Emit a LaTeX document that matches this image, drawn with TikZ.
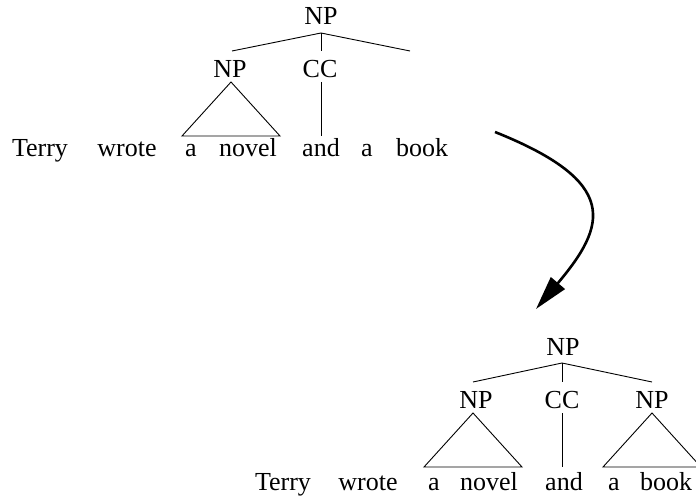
\documentclass[tikz,border=0pt]{standalone}
\usepackage{fontspec}
\setmainfont{Liberation Serif}
\usetikzlibrary{arrows.meta}
\begin{document}
\begin{tikzpicture}[x=1pt,y=-1pt,
  lab/.style={font=\fontsize{26}{30}\selectfont, inner sep=0pt, anchor=base},
  word/.style={lab},
  edge/.style={line width=0.9pt},
  bigarrow/.style={line width=2.6pt, -{Triangle[length=34pt,width=18pt]}}
]
\useasboundingbox (0,0) rectangle (696,497);

% ---------- top tree ----------
\node[lab] (r1) at (321,25) {NP};
\coordinate (r1a) at (321,33);
\coordinate (b1l) at (232,51);
\coordinate (b1m) at (321,51);
\coordinate (b1r) at (410,51);
\draw[edge] (r1a) -- (b1l);
\draw[edge] (r1a) -- (b1m);
\draw[edge] (r1a) -- (b1r);
\node[lab] (np1) at (230,78) {NP};
\node[lab] (cc1) at (320,78) {CC};
\coordinate (t1a) at (231,82);
\coordinate (t1l) at (182,136);
\coordinate (t1r) at (280,136);
\draw[edge] (t1a) -- (t1l) -- (t1r) -- cycle;
\coordinate (c1a) at (321,82);
\coordinate (c1b) at (321,136);
\draw[edge] (c1a) -- (c1b);
\node[word] (w1) at (40,157) {Terry};
\node[word] (w2) at (127,157) {wrote};
\node[word] (w3) at (191,157) {a};
\node[word] (w4) at (248,157) {novel};
\node[word] (w5) at (321,157) {and};
\node[word] (w6) at (367,157) {a};
\node[word] (w7) at (422,157) {book};

% ---------- arrow ----------
\coordinate (ar1) at (495,132);
\coordinate (ar2) at (536,309);
\draw[bigarrow] (ar1) .. controls (620,182) and (607,225) .. (ar2);

% ---------- bottom tree ----------
\node[lab] (r2) at (563,355) {NP};
\coordinate (r2a) at (562,363);
\coordinate (b2l) at (473,382);
\coordinate (b2m) at (562,382);
\coordinate (b2r) at (652,382);
\draw[edge] (r2a) -- (b2l);
\draw[edge] (r2a) -- (b2m);
\draw[edge] (r2a) -- (b2r);
\node[lab] (np2) at (476,408) {NP};
\node[lab] (cc2) at (562,408) {CC};
\node[lab] (np3) at (652,408) {NP};
\coordinate (t2a) at (473,413);
\coordinate (t2l) at (424,467);
\coordinate (t2r) at (522,467);
\draw[edge] (t2a) -- (t2l) -- (t2r) -- cycle;
\coordinate (c2a) at (562,413);
\coordinate (c2b) at (562,467);
\draw[edge] (c2a) -- (c2b);
\coordinate (t3a) at (652,413);
\coordinate (t3l) at (603,467);
\coordinate (t3r) at (701,467);
\draw[edge] (t3a) -- (t3l) -- (t3r) -- cycle;
\node[word] (v1) at (283,490) {Terry};
\node[word] (v2) at (368,490) {wrote};
\node[word] (v3) at (434,490) {a};
\node[word] (v4) at (489,490) {novel};
\node[word] (v5) at (564,490) {and};
\node[word] (v6) at (614,490) {a};
\node[word] (v7) at (666,490) {book};
\end{tikzpicture}
\end{document}
